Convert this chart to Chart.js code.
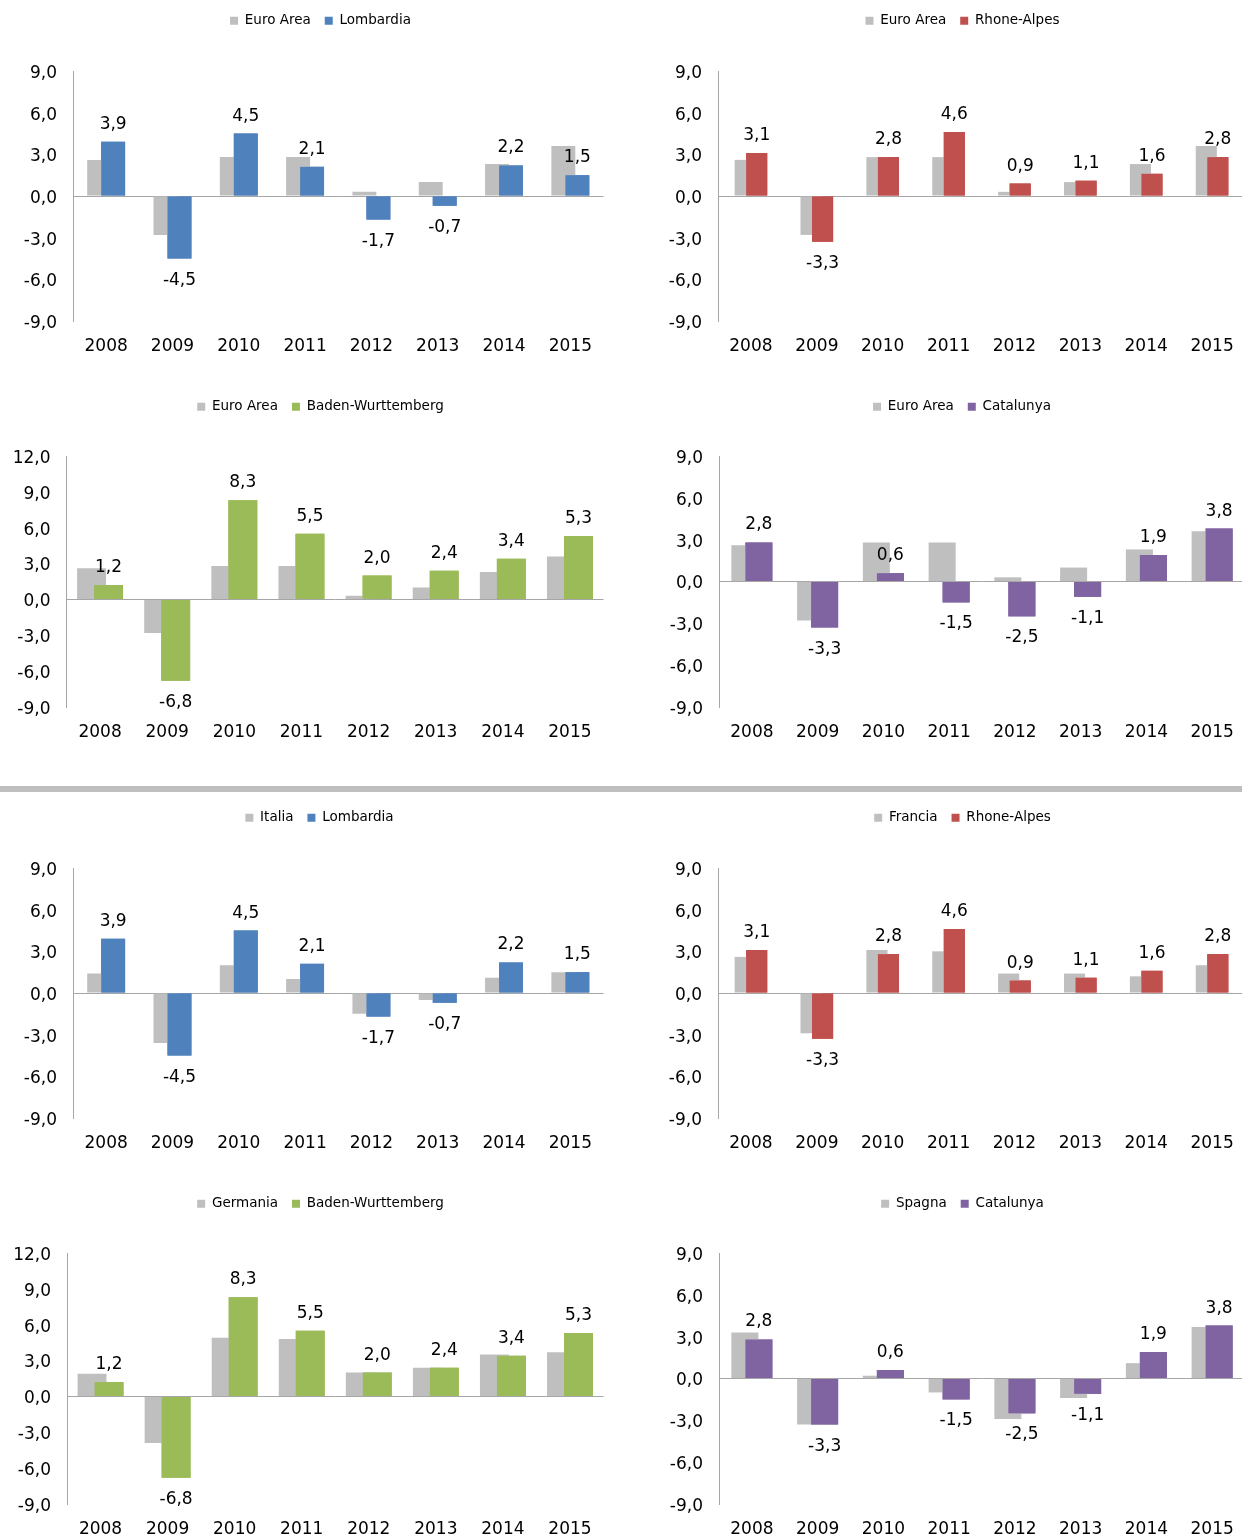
<!DOCTYPE html>
<html lang="it">
<head>
<meta charset="utf-8">
<title>PIL regionale a confronto</title>
<script src="https://cdn.jsdelivr.net/npm/chart.js@4.4.1/dist/chart.umd.min.js"></script>
<style>
    html, body { margin: 0; padding: 0; background: #fff; overflow: hidden; width: 1242px; height: 1539px; }
    .pannello { position: absolute; }
    .separatore { position: absolute; left: 0; top: 786px; width: 1242px; height: 6px; background: #bfbfbf; }
</style>
</head>
<body>
<div class="pannello" style="left:0; top:0;"><canvas id="g1" width="620" height="370"></canvas></div>
<div class="pannello" style="left:620px; top:0;"><canvas id="g2" width="630" height="370"></canvas></div>
<div class="pannello" style="left:0; top:386px;"><canvas id="g3" width="620" height="370"></canvas></div>
<div class="pannello" style="left:620px; top:386px;"><canvas id="g4" width="630" height="370"></canvas></div>
<div class="separatore"></div>
<div class="pannello" style="left:0; top:797px;"><canvas id="g5" width="620" height="370"></canvas></div>
<div class="pannello" style="left:620px; top:797px;"><canvas id="g6" width="630" height="370"></canvas></div>
<div class="pannello" style="left:0; top:1183px;"><canvas id="g7" width="620" height="370"></canvas></div>
<div class="pannello" style="left:620px; top:1183px;"><canvas id="g8" width="630" height="370"></canvas></div>

<script>
// dati: variazioni % annue
const anni = ['2008', '2009', '2010', '2011', '2012', '2013', '2014', '2015'];

const euroArea = [2.6, -2.8, 2.8, 2.8, 0.3, 1.0, 2.3, 3.6];
const italia = [1.4, -3.6, 2.0, 1.0, -1.5, -0.5, 1.1, 1.5];
const francia = [2.6, -2.9, 3.1, 3.0, 1.4, 1.4, 1.2, 2.0];
const germania = [1.9, -3.9, 4.9, 4.8, 2.0, 2.4, 3.5, 3.7];
const spagna = [3.3, -3.3, 0.2, -1.0, -2.9, -1.4, 1.1, 3.7];

const lombardia = [3.9, -4.5, 4.5, 2.1, -1.7, -0.7, 2.2, 1.5];
const rhoneAlpes = [3.1, -3.3, 2.8, 4.6, 0.9, 1.1, 1.6, 2.8];
const badenWurttemberg = [1.2, -6.8, 8.3, 5.5, 2.0, 2.4, 3.4, 5.3];
const catalunya = [2.8, -3.3, 0.6, -1.5, -2.5, -1.1, 1.9, 3.8];

// tacche dell'asse y
const asseStandard = [-9, -6, -3, 0, 3, 6, 9];
const asseAmpio = [-9, -6, -3, 0, 3, 6, 9, 12];

const GRIGIO = '#bfbfbf';
const BLU = '#4f81bd';
const ROSSO = '#c0504d';
const VERDE = '#9bbb59';
const VIOLA = '#8064a2';
const FONT = '"DejaVu Sans", Verdana, sans-serif';

Chart.defaults.font.family = FONT;
Chart.defaults.color = '#000';

const virgola = v => v.toFixed(1).replace('.', ',');

// barre della regione sopra quelle grigie + etichette dei valori
const etichette = {
    id: 'etichette',
    afterDatasetsDraw(chart) {
        const ctx = chart.ctx;
        const meta = chart.getDatasetMeta(1);
        const valori = chart.data.datasets[1].data;
        ctx.save();
        meta.data.forEach(bar => bar.draw(ctx));
        ctx.font = '17px ' + FONT;
        ctx.fillStyle = '#000';
        ctx.textAlign = 'center';
        ctx.textBaseline = 'alphabetic';
        meta.data.forEach((bar, i) => {
            const v = valori[i];
            const y = v >= 0 ? bar.y - 13 : bar.y + 26;
            ctx.fillText(virgola(v), bar.x, y);
        });
        ctx.restore();
    }
};

// legenda: spazio fisso sotto di essa e centro orizzontale come nell'originale
function legendaFissa(altezza, centro) {
    return {
        id: 'legendaFissa',
        beforeInit(chart) {
            const legend = chart.legend;
            if (!legend) return;
            const fit = legend.fit;
            legend.fit = function () {
                fit.call(this);
                this.height = altezza;
            };
            const draw = legend.draw;
            legend.draw = function () {
                const dx = centro - (this.left + this.right) / 2;
                this.ctx.save();
                this.ctx.translate(dx, 0);
                draw.call(this);
                this.ctx.restore();
            };
        }
    };
}

function grafico(id, nomi, grigio, regione, colore, tacche, forma) {
    const ctx = document.getElementById(id).getContext('2d');
    return new Chart(ctx, {
        type: 'bar',
        data: {
            labels: anni,
            datasets: [
                { label: nomi[0], data: grigio, backgroundColor: GRIGIO, borderWidth: 0 },
                { label: nomi[1], data: regione, backgroundColor: colore, borderWidth: 0 }
            ]
        },
        options: {
            responsive: false,
            animation: false,
            devicePixelRatio: 1,
            datasets: {
                bar: { categoryPercentage: forma.cp, barPercentage: forma.bp }
            },
            layout: { padding: { left: 0, right: forma.padR, top: 0, bottom: 0 } },
            plugins: {
                legend: {
                    position: 'top',
                    labels: {
                        boxWidth: 8,
                        boxHeight: 8,
                        padding: 14,
                        color: '#000',
                        font: { size: 13.5, family: FONT }
                    }
                },
                tooltip: { enabled: false }
            },
            scales: {
                x: {
                    grid: { display: false },
                    border: { display: false },
                    ticks: { font: { size: 17 }, color: '#000', padding: 7, maxRotation: 0 },
                    afterFit(scale) { scale.height = 49; }
                },
                y: {
                    min: tacche[0],
                    max: tacche[tacche.length - 1],
                    ticks: {
                        stepSize: 3,
                        font: { size: 17 },
                        color: '#000',
                        padding: 16,
                        labelOffset: 2.5,
                        callback: v => virgola(v)
                    },
                    grid: {
                        drawTicks: false,
                        color: c => (c.tick && c.tick.value === 0) ? '#a6a6a6' : 'rgba(0,0,0,0)',
                        lineWidth: 1
                    },
                    border: { display: true, color: '#a6a6a6', width: 1 },
                    afterFit(scale) { scale.width = forma.yW; }
                }
            }
        },
        plugins: [legendaFissa(forma.top, forma.centro), etichette]
    });
}

grafico('g1', ['Euro Area', 'Lombardia'], euroArea, lombardia, BLU, asseStandard,
    { cp: 0.422, bp: 1.71, padR: 16.5, yW: 73, top: 71, centro: 320.5 });
grafico('g2', ['Euro Area', 'Rhone-Alpes'], euroArea, rhoneAlpes, ROSSO, asseStandard,
    { cp: 0.35, bp: 1.83, padR: 5, yW: 98, top: 71, centro: 342.5 });
grafico('g3', ['Euro Area', 'Baden-Wurttemberg'], euroArea, badenWurttemberg, VERDE, asseAmpio,
    { cp: 0.507, bp: 1.7, padR: 16.5, yW: 66.5, top: 70, centro: 320.5 });
grafico('g4', ['Euro Area', 'Catalunya'], euroArea, catalunya, VIOLA, asseStandard,
    { cp: 0.426, bp: 1.93, padR: 5, yW: 99, top: 70, centro: 342 });
grafico('g5', ['Italia', 'Lombardia'], italia, lombardia, BLU, asseStandard,
    { cp: 0.422, bp: 1.71, padR: 16.5, yW: 73, top: 71, centro: 319.5 });
grafico('g6', ['Francia', 'Rhone-Alpes'], francia, rhoneAlpes, ROSSO, asseStandard,
    { cp: 0.35, bp: 1.83, padR: 5, yW: 98, top: 71, centro: 342.5 });
grafico('g7', ['Germania', 'Baden-Wurttemberg'], germania, badenWurttemberg, VERDE, asseAmpio,
    { cp: 0.507, bp: 1.7, padR: 16.5, yW: 67, top: 70, centro: 320.5 });
grafico('g8', ['Spagna', 'Catalunya'], spagna, catalunya, VIOLA, asseStandard,
    { cp: 0.426, bp: 1.93, padR: 5, yW: 99, top: 70, centro: 342.5 });
</script>
</body>
</html>
